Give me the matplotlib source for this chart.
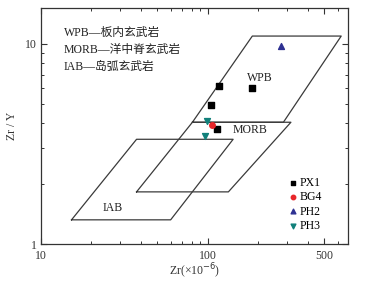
import numpy as np
import matplotlib.pyplot as plt
from matplotlib.ticker import FixedLocator, NullFormatter

plt.rcParams['font.family'] = ['Liberation Serif', 'Noto Sans CJK SC']

# Field boundaries (Zr, Zr/Y)
wpb_zr = [81, 185, 630, 284, 81]
wpb_zy = [4.05, 10.9, 10.9, 4.05, 4.05]
morb_zr = [37.5, 81, 315, 133, 37.5]
morb_zy = [1.82, 4.05, 4.05, 1.82, 1.82]
iab_zr = [15.3, 37.5, 142, 60, 15.3]
iab_zy = [1.32, 3.33, 3.33, 1.32, 1.32]

# Samples
px1_zr = [117.4, 185, 104.6, 113.2]
px1_zy = [6.17, 5.97, 4.92, 3.74]
bg4_zr = [106.6]
bg4_zy = [3.91]
ph2_zr = [274.6]
ph2_zy = [9.77]
ph3_zr = [99.5, 96.7]
ph3_zy = [4.11, 3.46]

fig = plt.figure(figsize=(3.86, 2.83), dpi=100)
ax = fig.add_axes([0.1054, 0.1378, 0.797, 0.833])

lc = '#3a3a3a'
for xs, ys in [(wpb_zr, wpb_zy), (morb_zr, morb_zy), (iab_zr, iab_zy)]:
    ax.plot(xs, ys, color=lc, lw=0.9)

ax.scatter(px1_zr, px1_zy, marker='s', s=14, color='black', label='PX1', zorder=3)
ax.scatter(bg4_zr, bg4_zy, marker='o', s=16, color='#e8262a', label='BG4', zorder=3)
ax.scatter(ph2_zr, ph2_zy, marker='^', s=18, color='#2e3192', label='PH2', zorder=3)
ax.scatter(ph3_zr, ph3_zy, marker='v', s=18, color='#11807a', label='PH3', zorder=3)

ax.set_xscale('log')
ax.set_yscale('log')
ax.set_xlim(10, 695)
ax.set_ylim(1, 15)

ax.xaxis.set_major_locator(FixedLocator([10, 100, 500]))
ax.xaxis.set_minor_locator(FixedLocator([20, 30, 40, 50, 60, 70, 80, 90, 200, 300, 400, 600]))
ax.set_xticklabels(['10', '100', '500'])
ax.xaxis.set_minor_formatter(NullFormatter())
ax.yaxis.set_major_locator(FixedLocator([1, 10]))
ax.yaxis.set_minor_locator(FixedLocator([2, 3, 4, 5, 6, 7, 8, 9]))
ax.set_yticklabels(['1', '10'])
ax.yaxis.set_minor_formatter(NullFormatter())

ax.tick_params(which='both', direction='in', top=True, right=True,
               labelsize=8.5, colors='#333333')
ax.tick_params(axis='x', pad=4)
ax.tick_params(axis='y', pad=3)
ax.tick_params(which='major', length=4, width=0.8)
ax.tick_params(which='minor', length=2.5, width=0.7)
for sp in ax.spines.values():
    sp.set_color('#333333')
    sp.set_linewidth(0.9)

ax.set_xlabel('Zr(×10$^{-6}$)', fontsize=8.5, color='#333333', labelpad=0)
ax.set_ylabel('Zr / Y', fontsize=8.5, color='#333333', labelpad=5)

ax.text(205.6, 6.74, 'WPB', fontsize=8.5, color='#222222', ha='center', va='center')
ax.text(141.6, 3.7, 'MORB', fontsize=8.5, color='#222222', ha='left', va='center')
ax.text(27.1, 1.51, 'IAB', fontsize=8.5, color='#222222', ha='center', va='center')

ax.text(0.075, 0.895, 'WPB—板内玄武岩', transform=ax.transAxes, fontsize=8.5, color='#222222', va='center')
ax.text(0.075, 0.823, 'MORB—洋中脊玄武岩', transform=ax.transAxes, fontsize=8.5, color='#222222', va='center')
ax.text(0.075, 0.751, 'IAB—岛弧玄武岩', transform=ax.transAxes, fontsize=8.5, color='#222222', va='center')

ax.legend(loc='upper left', bbox_to_anchor=(0.77, 0.32), frameon=False, fontsize=8.5,
          handletextpad=0.0, labelspacing=0.2, handlelength=1.2, borderpad=0.2,
          markerscale=0.8)

fig.savefig('out.png', dpi=100)
